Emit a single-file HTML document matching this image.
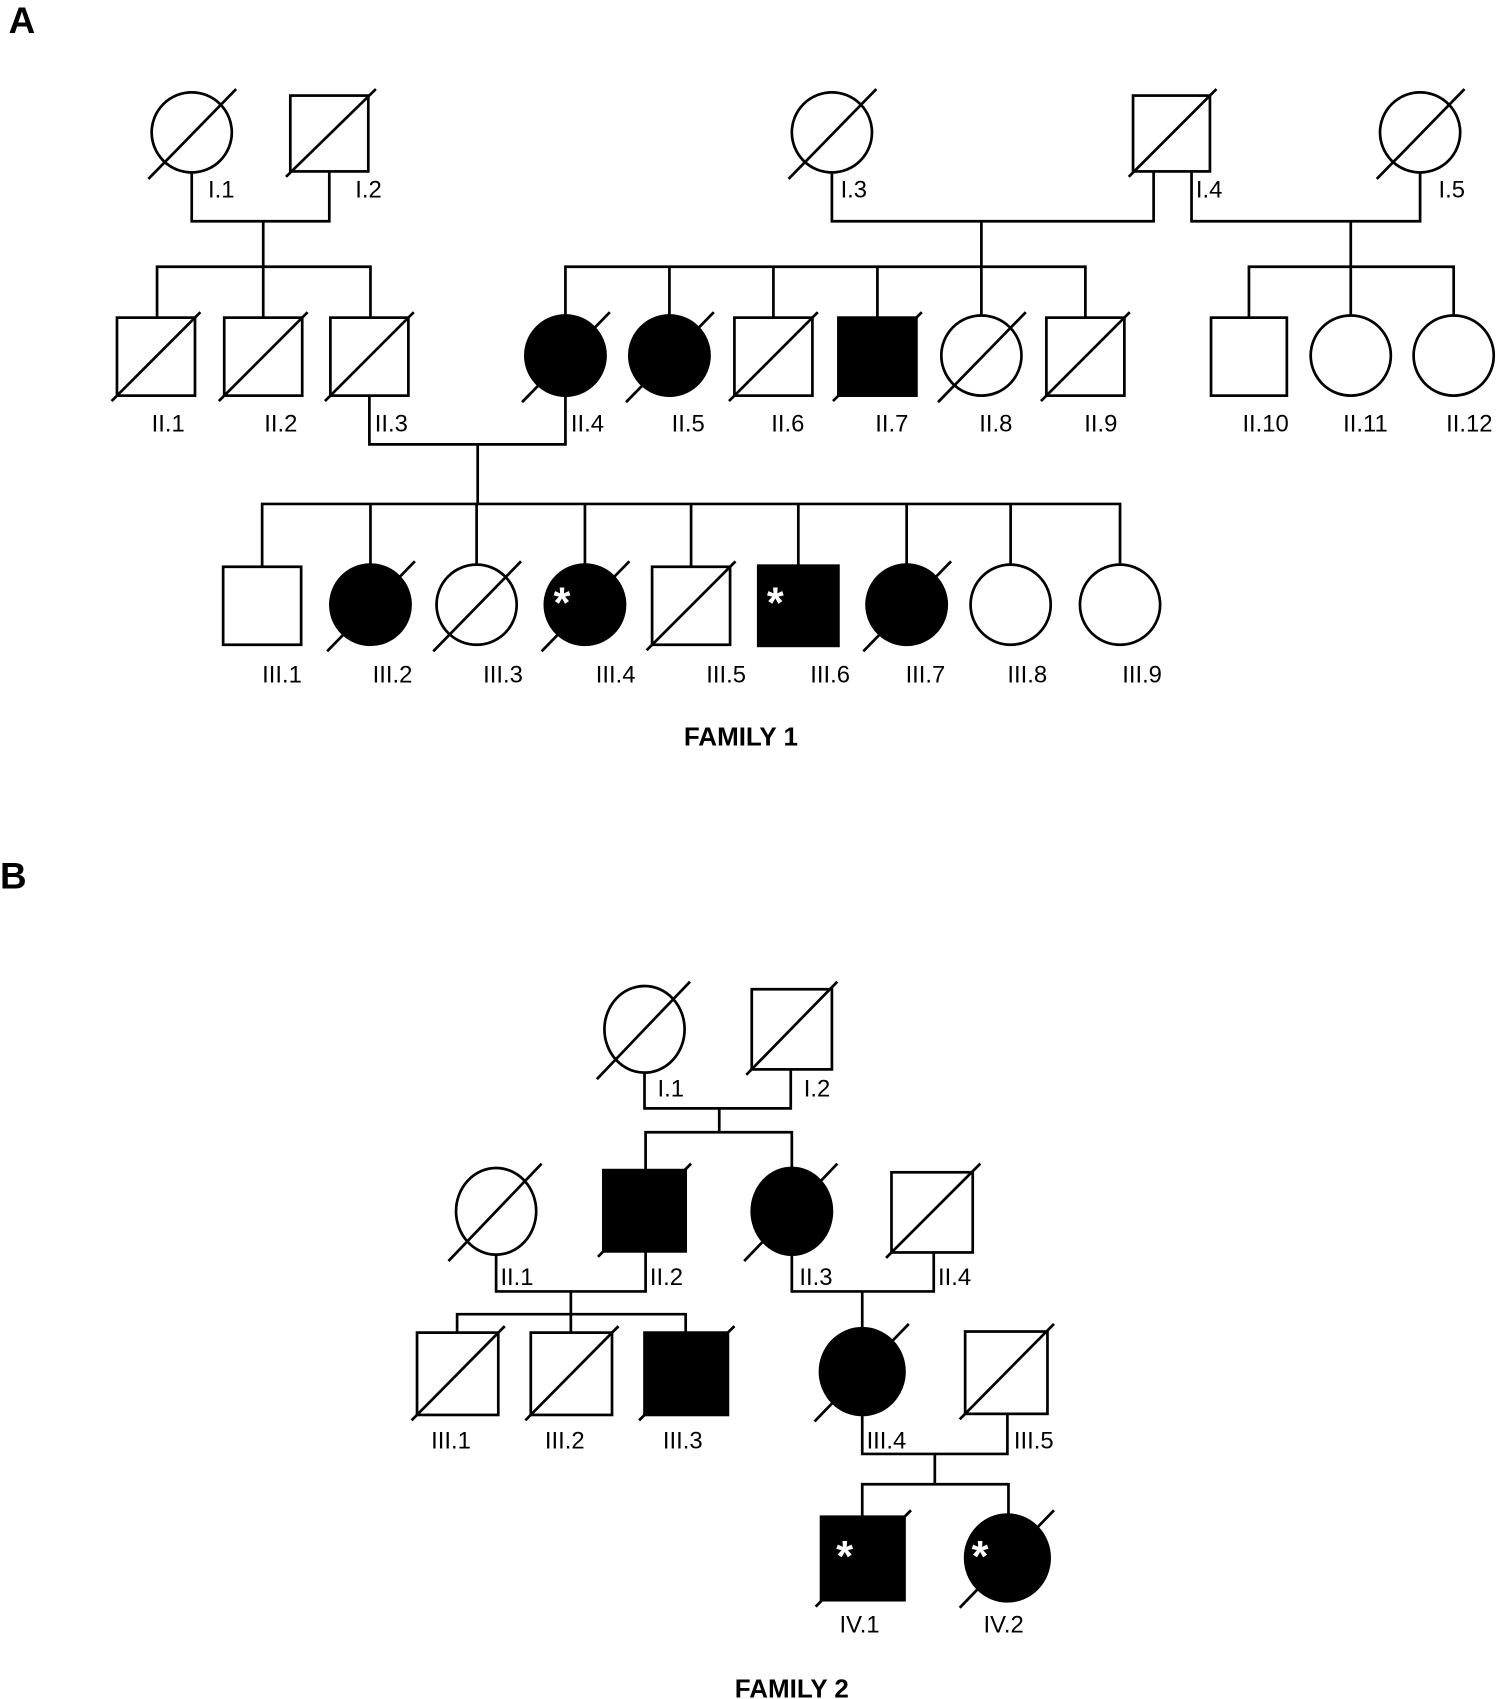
<!DOCTYPE html>
<html><head><meta charset="utf-8"><style>
html,body{margin:0;padding:0;background:#fff}
svg{display:block}
text{font-family:"Liberation Sans",sans-serif;font-size:22px;fill:#000}
.b{font-weight:bold;font-size:24px}
.s{fill:#fff;font-weight:bold;font-size:40px}
</style></head><body>
<svg width="1497" height="1699" viewBox="0 0 1382 1568" xmlns="http://www.w3.org/2000/svg">
<g stroke="#000" stroke-width="2.5" fill="none">
<circle cx="177" cy="122" r="37"/><line x1="137" y1="165" x2="218" y2="82"/>
<rect x="268" y="88" width="72" height="70"/><line x1="264" y1="163" x2="347" y2="82"/>
<circle cx="768" cy="122" r="37"/><line x1="728" y1="165" x2="809" y2="82"/>
<rect x="1046" y="88" width="71" height="70"/><line x1="1042" y1="163" x2="1123" y2="82"/>
<circle cx="1311" cy="122" r="37"/><line x1="1271" y1="165" x2="1352" y2="82"/>
<polyline points="177,159 177,204 304,204 304,158"/>
<line x1="243" y1="204" x2="243" y2="246"/>
<polyline points="145,293 145,246 342,246 342,293"/>
<line x1="243" y1="246" x2="243" y2="293"/>
<polyline points="768,159 768,204 1065,204 1065,158"/>
<polyline points="1100,158 1100,204 1311,204 1311,159"/>
<line x1="906" y1="204" x2="906" y2="246"/>
<polyline points="522,291 522,246 1002,246 1002,293"/>
<line x1="618" y1="246" x2="618" y2="291"/><line x1="714" y1="246" x2="714" y2="293"/>
<line x1="810" y1="246" x2="810" y2="293"/><line x1="906" y1="246" x2="906" y2="291"/>
<line x1="1247" y1="204" x2="1247" y2="246"/>
<polyline points="1153,293 1153,246 1342,246 1342,291"/>
<line x1="1247" y1="246" x2="1247" y2="291"/>
<rect x="108" y="293" width="72" height="72"/><line x1="103" y1="370" x2="185" y2="288"/>
<rect x="207" y="293" width="72" height="72"/><line x1="202" y1="370" x2="284" y2="288"/>
<rect x="305" y="293" width="72" height="72"/><line x1="300" y1="370" x2="382" y2="288"/>
<circle cx="522" cy="328" r="37" fill="#000"/><line x1="482" y1="371" x2="563" y2="288"/>
<circle cx="618" cy="328" r="37" fill="#000"/><line x1="578" y1="371" x2="659" y2="288"/>
<rect x="678" y="293" width="72" height="72"/><line x1="673" y1="370" x2="755" y2="288"/>
<rect x="774" y="293" width="72" height="72" fill="#000"/><line x1="769" y1="370" x2="851" y2="288"/>
<circle cx="906" cy="328" r="37"/><line x1="866" y1="371" x2="947" y2="288"/>
<rect x="966" y="293" width="72" height="72"/><line x1="961" y1="370" x2="1043" y2="288"/>
<rect x="1118" y="293" width="70" height="72"/>
<circle cx="1247" cy="328" r="37"/>
<circle cx="1342" cy="328" r="37"/>
<polyline points="341,365 341,410 522,410 522,365"/>
<line x1="441" y1="410" x2="441" y2="465"/>
<polyline points="242,523 242,465 1034,465 1034,521"/>
<line x1="342" y1="465" x2="342" y2="521"/><line x1="440" y1="465" x2="440" y2="521"/>
<line x1="540" y1="465" x2="540" y2="521"/><line x1="638" y1="465" x2="638" y2="523"/>
<line x1="737" y1="465" x2="737" y2="523"/><line x1="837" y1="465" x2="837" y2="521"/>
<line x1="933" y1="465" x2="933" y2="521"/>
<rect x="206" y="523" width="72" height="72"/>
<circle cx="342" cy="558" r="37" fill="#000"/><line x1="302" y1="601" x2="383" y2="518"/>
<circle cx="440" cy="558" r="37"/><line x1="400" y1="601" x2="481" y2="518"/>
<circle cx="540" cy="558" r="37" fill="#000"/><line x1="500" y1="601" x2="581" y2="518"/>
<rect x="602" y="523" width="72" height="72"/><line x1="597" y1="600" x2="679" y2="518"/>
<rect x="700" y="522" width="74" height="74" fill="#000"/>
<circle cx="837" cy="558" r="37" fill="#000"/><line x1="797" y1="601" x2="878" y2="518"/>
<circle cx="933" cy="558" r="37"/>
<circle cx="1034" cy="558" r="37"/>
<ellipse cx="595" cy="950" rx="37" ry="40"/><line x1="551" y1="996" x2="637" y2="906"/>
<rect x="694" y="913" width="74" height="74"/><line x1="689" y1="992" x2="773" y2="906"/>
<polyline points="595,990 595,1023 730,1023 730,987"/>
<line x1="664" y1="1023" x2="664" y2="1045"/>
<polyline points="596,1080 596,1045 731,1045 731,1078"/>
<ellipse cx="458" cy="1118" rx="37" ry="40"/><line x1="414" y1="1164" x2="500" y2="1074"/>
<rect x="557" y="1080" width="76" height="75" fill="#000"/><line x1="552" y1="1160" x2="638" y2="1074"/>
<ellipse cx="731" cy="1118" rx="37" ry="40" fill="#000"/><line x1="687" y1="1164" x2="773" y2="1074"/>
<rect x="823" y="1082" width="75" height="74"/><line x1="818" y1="1161" x2="905" y2="1074"/>
<polyline points="458,1158 458,1192 596,1192 596,1155"/>
<line x1="527" y1="1192" x2="527" y2="1213"/>
<polyline points="422,1230 422,1213 633,1213 633,1230"/>
<line x1="527" y1="1213" x2="527" y2="1230"/>
<rect x="385" y="1230" width="75" height="76"/><line x1="380" y1="1311" x2="466" y2="1224"/>
<rect x="490" y="1230" width="75" height="76"/><line x1="485" y1="1311" x2="571" y2="1224"/>
<rect x="595" y="1230" width="77" height="76" fill="#000"/><line x1="590" y1="1311" x2="678" y2="1224"/>
<polyline points="731,1158 731,1192 862,1192 862,1156"/>
<line x1="796" y1="1192" x2="796" y2="1227"/>
<ellipse cx="796" cy="1266" rx="39" ry="40" fill="#000"/><line x1="752" y1="1312" x2="839" y2="1222"/>
<rect x="891" y="1229" width="76" height="76"/><line x1="886" y1="1310" x2="973" y2="1222"/>
<polyline points="796,1306 796,1342 930,1342 930,1305"/>
<line x1="863" y1="1342" x2="863" y2="1370"/>
<polyline points="796,1400 796,1370 931,1370 931,1398"/>
<rect x="758" y="1400" width="77" height="77" fill="#000"/><line x1="753" y1="1483" x2="841" y2="1394"/>
<ellipse cx="930" cy="1438" rx="39" ry="40" fill="#000"/><line x1="886" y1="1484" x2="973" y2="1394"/>
</g>
<text class="b" x="8" y="30" style="font-size:34px">A</text>
<text class="b" x="0" y="820" style="font-size:34px">B</text>
<text x="192" y="182">I.1</text><text x="328" y="182">I.2</text>
<text x="776" y="182">I.3</text><text x="1104" y="182">I.4</text><text x="1328" y="182">I.5</text>
<text x="140" y="398">II.1</text><text x="244" y="398">II.2</text><text x="346" y="398">II.3</text>
<text x="527" y="398">II.4</text><text x="620" y="398">II.5</text><text x="712" y="398">II.6</text>
<text x="808" y="398">II.7</text><text x="904" y="398">II.8</text><text x="1001" y="398">II.9</text>
<text x="1147" y="398">II.10</text><text x="1240" y="398">II.11</text><text x="1335" y="398">II.12</text>
<text x="242" y="630">III.1</text><text x="344" y="630">III.2</text><text x="446" y="630">III.3</text>
<text x="550" y="630">III.4</text><text x="652" y="630">III.5</text><text x="748" y="630">III.6</text>
<text x="836" y="630">III.7</text><text x="930" y="630">III.8</text><text x="1036" y="630">III.9</text>
<text class="s" x="511" y="570">*</text><text class="s" x="708" y="570">*</text>
<text class="b" x="684" y="688" text-anchor="middle">FAMILY 1</text>
<text x="607" y="1012">I.1</text><text x="742" y="1012">I.2</text>
<text x="462" y="1186">II.1</text><text x="600" y="1186">II.2</text><text x="738" y="1186">II.3</text><text x="866" y="1186">II.4</text>
<text x="398" y="1337">III.1</text><text x="503" y="1337">III.2</text><text x="612" y="1337">III.3</text>
<text x="800" y="1337">III.4</text><text x="936" y="1337">III.5</text>
<text x="775" y="1507">IV.1</text><text x="908" y="1507">IV.2</text>
<text class="s" x="772" y="1450">*</text><text class="s" x="897" y="1450">*</text>
<text class="b" x="731" y="1567" text-anchor="middle">FAMILY 2</text>
</svg>
</body></html>
